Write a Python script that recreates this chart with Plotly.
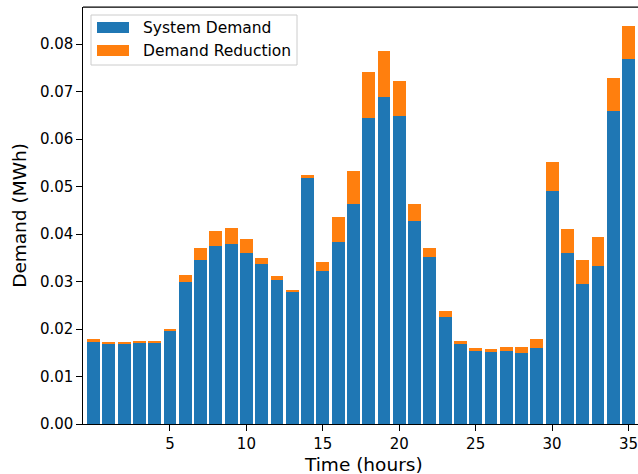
import plotly.graph_objects as go

hours = list(range(36))
system_demand = [0.01746, 0.01697, 0.01697, 0.01725, 0.01725, 0.01977, 0.02987, 0.03450, 0.03744, 0.03786,
                 0.03597, 0.03366, 0.03029, 0.02777, 0.05175, 0.03218, 0.03828, 0.04628, 0.06437, 0.06878,
                 0.06479, 0.04270, 0.03513, 0.02251, 0.01683, 0.01536, 0.01515, 0.01536, 0.01494, 0.01599,
                 0.04901, 0.03597, 0.02945, 0.03324, 0.06584, 0.07678]
total_demand = [0.01788, 0.01725, 0.01725, 0.01746, 0.01746, 0.01998, 0.03134, 0.03702, 0.04060, 0.04123,
                0.03891, 0.03492, 0.03113, 0.02819, 0.05238, 0.03408, 0.04354, 0.05322, 0.07404, 0.07846,
                0.07215, 0.04628, 0.03702, 0.02377, 0.01746, 0.01599, 0.01578, 0.01620, 0.01620, 0.01788,
                0.05511, 0.04102, 0.03450, 0.03934, 0.07278, 0.08372]
demand_reduction = [round(t - s, 5) for t, s in zip(total_demand, system_demand)]

x_ticks = [5, 10, 15, 20, 25, 30, 35]
y_ticks = [0.00, 0.01, 0.02, 0.03, 0.04, 0.05, 0.06, 0.07, 0.08]
y_tick_text = [f"{v:.2f}" for v in y_ticks]

BLUE = "#1f77b4"
ORANGE = "#ff7f0e"
FONT = "DejaVu Sans"

W, H = 638, 474
L, R, T, B = 83, 638, 7, 424

fig = go.Figure()
fig.add_trace(go.Bar(x=hours, y=system_demand, name="System Demand", marker=dict(color=BLUE, line=dict(width=0)),
                     width=0.84, showlegend=False))
fig.add_trace(go.Bar(x=hours, y=demand_reduction, name="Demand Reduction", marker=dict(color=ORANGE, line=dict(width=0)),
                     width=0.84, showlegend=False))


def px(xp):
    return (xp - L) / (R - L)


def py(yp):
    return (B - yp) / (B - T)


shapes = [
    # top spine
    dict(type="line", xref="paper", yref="paper", x0=0, x1=1, y0=1, y1=1,
         line=dict(color="black", width=1.25)),
    # legend frame
    dict(type="rect", xref="paper", yref="paper", x0=px(91), x1=px(297), y0=py(65), y1=py(15),
         line=dict(color="#cccccc", width=1), fillcolor="rgba(255,255,255,0.8)", layer="above"),
    dict(type="rect", xref="paper", yref="paper", x0=px(97), x1=px(129), y0=py(33), y1=py(22),
         line=dict(width=0), fillcolor=BLUE, layer="above"),
    dict(type="rect", xref="paper", yref="paper", x0=px(97), x1=px(129), y0=py(56), y1=py(45),
         line=dict(width=0), fillcolor=ORANGE, layer="above"),
]

annotations = [
    dict(text="System Demand", xref="paper", yref="paper", x=px(141), y=py(27.5), xanchor="left", yanchor="middle",
         showarrow=False, font=dict(family=FONT, size=15.5, color="black")),
    dict(text="Demand Reduction", xref="paper", yref="paper", x=px(141), y=py(50.5), xanchor="left", yanchor="middle",
         showarrow=False, font=dict(family=FONT, size=15.5, color="black")),
    dict(text="Time (hours)", xref="paper", yref="paper", x=px(363.5), y=py(476), xanchor="center", yanchor="bottom",
         showarrow=False, borderpad=0, font=dict(family=FONT, size=18.5, color="black")),
]

fig.update_layout(
    width=W, height=H,
    margin=dict(l=L, r=W - R, t=T, b=H - B),
    barmode="stack",
    bargap=0,
    plot_bgcolor="white", paper_bgcolor="white",
    font=dict(family=FONT, size=15, color="black"),
    shapes=shapes,
    annotations=annotations,
    showlegend=False,
)
fig.update_xaxes(range=[-0.69, 35.62], tickmode="array", tickvals=x_ticks, ticks="outside", ticklen=5.5,
                 tickwidth=1.25, tickcolor="black", showline=True, linecolor="black", linewidth=1.25,
                 showgrid=False, zeroline=False, tickfont=dict(family=FONT, size=15), ticklabeloverflow="allow")
fig.update_yaxes(range=[0, 0.0878], tickmode="array", tickvals=y_ticks, ticktext=y_tick_text, ticks="outside",
                 ticklen=5.5, tickwidth=1.25, tickcolor="black", showline=True, linecolor="black", linewidth=1.25,
                 showgrid=False, zeroline=False, tickfont=dict(family=FONT, size=15),
                 title=dict(text="Demand (MWh)", font=dict(family=FONT, size=18.5), standoff=8))

fig.write_html("out.html")
